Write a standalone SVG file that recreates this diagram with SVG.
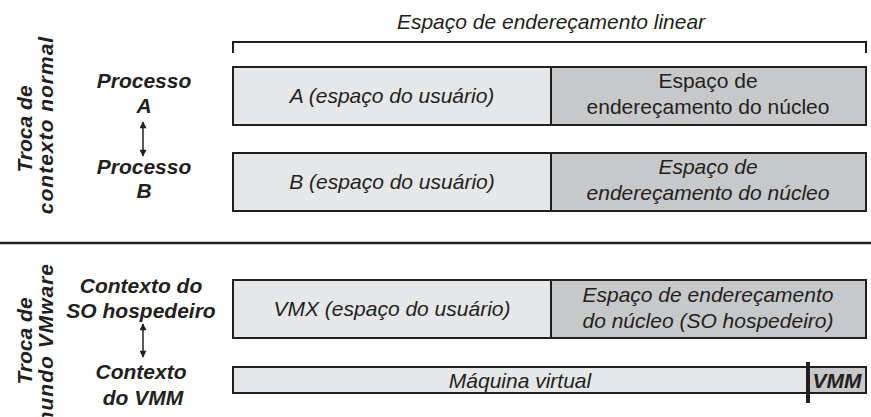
<svg xmlns="http://www.w3.org/2000/svg" width="871" height="417" viewBox="0 0 871 417">
<defs>
<style>
.box{stroke:#231f20;stroke-width:2}
.lt{fill:#e6e7e8}
.dk{fill:#c7c8ca}
.t{font-family:"Liberation Sans",Arial,sans-serif;font-size:21px;fill:#231f20;text-anchor:middle}
.i{font-style:italic}
.b{font-weight:bold;font-style:italic}
.r{font-weight:bold;font-style:italic;font-size:21px}
.ln{stroke:#231f20;fill:none}
</style>
<marker id="ah" viewBox="0 0 10 10" refX="9" refY="5" markerWidth="8" markerHeight="7" orient="auto-start-reverse" markerUnits="userSpaceOnUse">
<path d="M0,0 L10,5 L0,10 z" fill="#231f20"/>
</marker>
</defs>
<rect width="871" height="417" fill="#ffffff"/>

<g id="sidelabels">
<text class="t r" transform="translate(32,129) rotate(-90)">Troca de</text>
<text class="t r" transform="translate(53,125) rotate(-90)" style="letter-spacing:1px">contexto normal</text>
<text class="t r" transform="translate(32,341) rotate(-90)">Troca de</text>
<text class="t r" transform="translate(53,263) rotate(-90)" style="text-anchor:end;letter-spacing:1px">mundo VMware</text>
</g>

<g id="separator">
<line class="ln" x1="0" y1="243" x2="871" y2="243" stroke-width="2.5"/>
</g>

<g id="linear-label">
<path class="ln" d="M233,53 V42 H866 V53" stroke-width="2"/>
<text class="t i" x="551" y="29">Espaço de endereçamento linear</text>
</g>

<g id="procA">
<text class="t b" x="144" y="88">Processo</text>
<text class="t b" x="144" y="113">A</text>
</g>
<g id="procB">
<text class="t b" x="144" y="174">Processo</text>
<text class="t b" x="144" y="198">B</text>
</g>
<g id="ctxHost">
<text class="t b" x="141" y="293">Contexto do</text>
<text class="t b" x="141" y="318">SO hospedeiro</text>
</g>
<g id="ctxVMM">
<text class="t b" x="141" y="379">Contexto</text>
<text class="t b" x="143" y="405">do VMM</text>
</g>

<g id="rowA">
<rect class="box lt" x="233" y="67" width="318" height="58"/>
<rect class="box dk" x="551" y="67" width="315" height="58"/>
<text class="t i" x="392" y="103">A (espaço do usuário)</text>
<text class="t" x="708" y="88">Espaço de</text>
<text class="t" x="708" y="114">endereçamento do núcleo</text>
</g>

<g id="rowB">
<rect class="box lt" x="233" y="153" width="318" height="58"/>
<rect class="box dk" x="551" y="153" width="315" height="58"/>
<text class="t i" x="392" y="189">B (espaço do usuário)</text>
<text class="t i" x="708" y="174">Espaço de</text>
<text class="t i" x="708" y="200">endereçamento do núcleo</text>
</g>

<g id="rowVMX">
<rect class="box lt" x="233" y="280" width="318" height="58"/>
<rect class="box dk" x="551" y="280" width="315" height="58"/>
<text class="t i" x="392" y="316">VMX (espaço do usuário)</text>
<text class="t i" x="708" y="302">Espaço de endereçamento</text>
<text class="t i" x="708" y="328">do núcleo (SO hospedeiro)</text>
</g>

<g id="rowVM">
<rect class="box lt" x="233" y="367" width="575" height="26"/>
<rect class="box dk" x="808" y="367" width="58" height="26"/>
<line class="ln" x1="808" y1="362" x2="808" y2="403" stroke-width="4"/>
<text class="t i" x="520" y="388">Máquina virtual</text>
<text class="t b" x="837" y="388">VMM</text>
</g>

<g id="connectors">
<line class="ln" x1="143" y1="122" x2="143" y2="156" stroke-width="1.5" marker-start="url(#ah)" marker-end="url(#ah)"/>
<line class="ln" x1="143" y1="324" x2="143" y2="357" stroke-width="1.5" marker-start="url(#ah)" marker-end="url(#ah)"/>
</g>
</svg>
